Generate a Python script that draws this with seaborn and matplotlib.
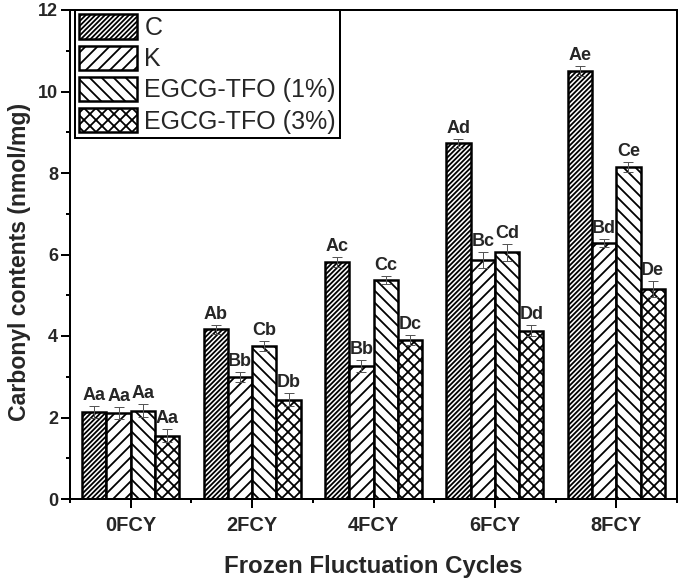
import numpy as np
import pandas as pd
import matplotlib
matplotlib.use("Agg")
import matplotlib.pyplot as plt
import seaborn as sns
from matplotlib.patches import Patch
from matplotlib.ticker import MultipleLocator, FixedLocator

# ---- data ----
cycles = ["0FCY", "2FCY", "4FCY", "6FCY", "8FCY"]
groups = ["C", "K", "EGCG-TFO (1%)", "EGCG-TFO (3%)"]

c_vals = [2.13, 4.16, 5.82, 8.73, 10.51]
k_vals = [2.11, 3.00, 3.26, 5.87, 6.29]
e1_vals = [2.17, 3.76, 5.37, 6.05, 8.15]
e3_vals = [1.55, 2.43, 3.90, 4.13, 5.16]

c_err = [0.15, 0.12, 0.13, 0.11, 0.12]
k_err = [0.15, 0.12, 0.15, 0.20, 0.10]
e1_err = [0.15, 0.12, 0.10, 0.20, 0.13]
e3_err = [0.16, 0.16, 0.12, 0.14, 0.20]

c_lab = ["Aa", "Ab", "Ac", "Ad", "Ae"]
k_lab = ["Aa", "Bb", "Bb", "Bc", "Bd"]
e1_lab = ["Aa", "Cb", "Cc", "Cd", "Ce"]
e3_lab = ["Aa", "Db", "Dc", "Dd", "De"]

hatches = ["/////", "//", "\\\\", "xx"]

vals = [c_vals, k_vals, e1_vals, e3_vals]
errs = [c_err, k_err, e1_err, e3_err]
labs = [c_lab, k_lab, e1_lab, e3_lab]

df = pd.DataFrame({
    "cycle": cycles * len(groups),
    "group": [g for g in groups for _ in cycles],
    "value": [v for vs in vals for v in vs],
})

# ---- style ----
sns.set_style("ticks")
plt.rcParams["font.family"] = ["Liberation Sans", "DejaVu Sans"]
plt.rcParams["hatch.linewidth"] = 1.8
plt.rcParams["hatch.color"] = "black"

DPI = 72
fig = plt.figure(figsize=(679 / DPI, 580 / DPI), dpi=DPI)
ax = fig.add_axes([70 / 679, 81 / 580, 607 / 679, 489 / 580])

sns.barplot(data=df, x="cycle", y="value", hue="group", order=cycles,
            hue_order=groups, palette=["white"] * 4, edgecolor="black",
            linewidth=2.5, errorbar=None, legend=False, width=0.8,
            saturation=1, ax=ax)

for cont, h, ev, lb in zip(ax.containers, hatches, errs, labs):
    xs, ys = [], []
    for rect in cont:
        rect.set_hatch(h)
        xs.append(rect.get_x() + rect.get_width() / 2)
        ys.append(rect.get_height())
    ax.errorbar(xs, ys, yerr=ev, fmt="none", ecolor="#555555",
                elinewidth=1, capsize=5, capthick=1, zorder=5)
    for x, y, e, t in zip(xs, ys, ev, lb):
        ax.annotate(t, (x, y + e), xytext=(0, 2), textcoords="offset points",
                    ha="center", va="bottom", fontsize=18, fontweight="bold")

ax.set_xlim(-0.5, 4.5)
ax.set_ylim(0, 12)
ax.yaxis.set_major_locator(MultipleLocator(2))
ax.yaxis.set_minor_locator(MultipleLocator(1))
ax.xaxis.set_minor_locator(FixedLocator([-0.5, 0.5, 1.5, 2.5, 3.5, 4.5]))

for sp in ax.spines.values():
    sp.set_visible(True)
    sp.set_linewidth(2)
    sp.set_color("black")

ax.tick_params(axis="both", which="major", direction="out", length=9,
               width=2, color="black")
ax.tick_params(axis="both", which="minor", direction="out", length=4,
               width=2, color="black")
ax.tick_params(axis="y", which="major", labelsize=18, pad=3)
ax.tick_params(axis="x", which="major", labelsize=20, pad=8)
for t in ax.get_xticklabels() + ax.get_yticklabels():
    t.set_fontweight("bold")

ax.set_xlabel("Frozen Fluctuation Cycles", fontsize=24, fontweight="bold",
              labelpad=20)
ax.set_ylabel("Carbonyl contents (nmol/mg)", fontsize=23, fontweight="bold")
ax.yaxis.set_label_coords(-0.064, 0.485)

handles = [Patch(facecolor="white", edgecolor="black", hatch=h, linewidth=2.5,
                 label=g) for g, h in zip(groups, hatches)]
leg = ax.legend(handles=handles, loc="upper left",
                bbox_to_anchor=(0.008, 1.0), borderaxespad=0, fontsize=25,
                handlelength=2.3, handleheight=1.12, labelspacing=0.22,
                handletextpad=0.3, borderpad=0.18, fancybox=False,
                framealpha=1)
leg.get_frame().set_edgecolor("black")
leg.get_frame().set_linewidth(2)

fig.savefig("out.png", dpi=DPI)
